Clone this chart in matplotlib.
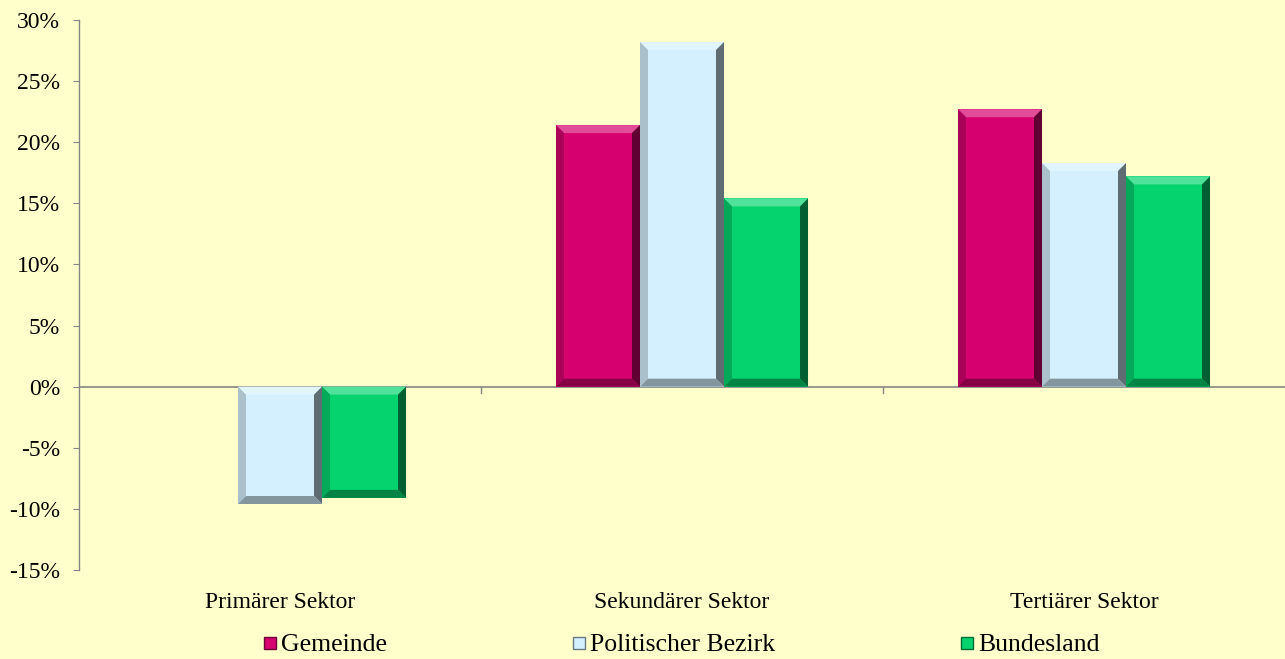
import matplotlib
matplotlib.use("Agg")
import matplotlib.pyplot as plt
import matplotlib.colors as mcolors
from matplotlib.patches import Polygon
from matplotlib.lines import Line2D
from matplotlib.ticker import FuncFormatter, MultipleLocator
import numpy as np

plt.rcParams["font.family"] = ["Liberation Serif", "DejaVu Serif"]

CATEGORIES = ["Primärer Sektor", "Sekundärer Sektor", "Tertiärer Sektor"]
SERIES = ["Gemeinde", "Politischer Bezirk", "Bundesland"]
GEMEINDE = [0.0, 21.4, 22.7]
BEZIRK = [-9.6, 28.2, 18.3]
BUNDESLAND = [-9.1, 15.4, 17.2]

COLORS = ["#D6006E", "#D4F0FE", "#05D46E"]
BG = "#FFFFCC"

W, H, DPI = 1285, 659, 100


def shade(color, f):
    rgb = np.array(mcolors.to_rgb(color))
    if f > 0:
        rgb = rgb + (1 - rgb) * f
    else:
        rgb = rgb * (1 + f)
    return tuple(np.clip(rgb, 0, 1))


def bevel(ax, bar, color, px=8):
    h = bar.get_height()
    if h == 0:
        return
    x0 = bar.get_x()
    x1 = x0 + bar.get_width()
    y0 = min(bar.get_y(), bar.get_y() + h)
    y1 = max(bar.get_y(), bar.get_y() + h)
    # pixel bevel width -> data units
    inv = ax.transData.inverted()
    p0 = inv.transform((0, 0))
    p1 = inv.transform((px, px))
    dx, dy = abs(p1[0] - p0[0]), abs(p1[1] - p0[1])
    dx = min(dx, (x1 - x0) / 3)
    dy = min(dy, (y1 - y0) / 3)
    faces = [
        ([(x0, y1), (x1, y1), (x1 - dx, y1 - dy), (x0 + dx, y1 - dy)], shade(color, 0.3)),
        ([(x0, y0), (x0, y1), (x0 + dx, y1 - dy), (x0 + dx, y0 + dy)], shade(color, -0.2)),
        ([(x1, y0), (x1, y1), (x1 - dx, y1 - dy), (x1 - dx, y0 + dy)], shade(color, -0.55)),
        ([(x0, y0), (x1, y0), (x1 - dx, y0 + dy), (x0 + dx, y0 + dy)], shade(color, -0.38)),
    ]
    for pts, c in faces:
        ax.add_patch(Polygon(pts, closed=True, facecolor=c, edgecolor="none", zorder=3))


fig = plt.figure(figsize=(W / DPI, H / DPI), dpi=DPI, facecolor=BG)
ax = fig.add_axes([79 / W, (H - 570) / H, (W - 79) / W, 550 / H])
ax.set_facecolor(BG)

x = np.arange(len(CATEGORIES))
width = 0.209
ax.set_xlim(-0.5, len(CATEGORIES) - 0.5)
ax.set_ylim(-15, 30)

all_vals = [GEMEINDE, BEZIRK, BUNDESLAND]
for i, (vals, color, name) in enumerate(zip(all_vals, COLORS, SERIES)):
    bars = ax.bar(x + (i - 1) * width, vals, width, color=color, edgecolor="none", zorder=2, label=name)
    for b in bars:
        bevel(ax, b, color)

ax.axhline(0, color="#868686", linewidth=1.2, zorder=1)
for b in x[:-1] + 0.5:
    ax.plot([b, b], [0, -0.5], color="#868686", linewidth=1, zorder=1)

for s in ["top", "right", "bottom"]:
    ax.spines[s].set_visible(False)
ax.spines["left"].set_color("#868686")
ax.spines["left"].set_linewidth(1)

ax.yaxis.set_major_locator(MultipleLocator(5))
ax.yaxis.set_major_formatter(FuncFormatter(lambda v, p: f"{v:.0f}%"))
ax.tick_params(axis="y", direction="out", length=4.5, color="#868686", pad=9, labelsize=17)
ax.set_xticks(x)
ax.set_xticklabels(CATEGORIES)
ax.tick_params(axis="x", length=0, pad=16, labelsize=17)

handles = [
    Line2D([], [], linestyle="none", marker="s", markersize=8,
           markerfacecolor=c, markeredgecolor=shade(c, -0.5), markeredgewidth=1)
    for c in COLORS
]
fig.legend(handles, SERIES, loc="center", bbox_to_anchor=(681 / W, 1 - 645 / H),
           ncol=3, frameon=False, fontsize=18.5, handlelength=0.55, handletextpad=0.15,
           columnspacing=7.2)

fig.savefig("out.png", dpi=DPI, facecolor=BG)
